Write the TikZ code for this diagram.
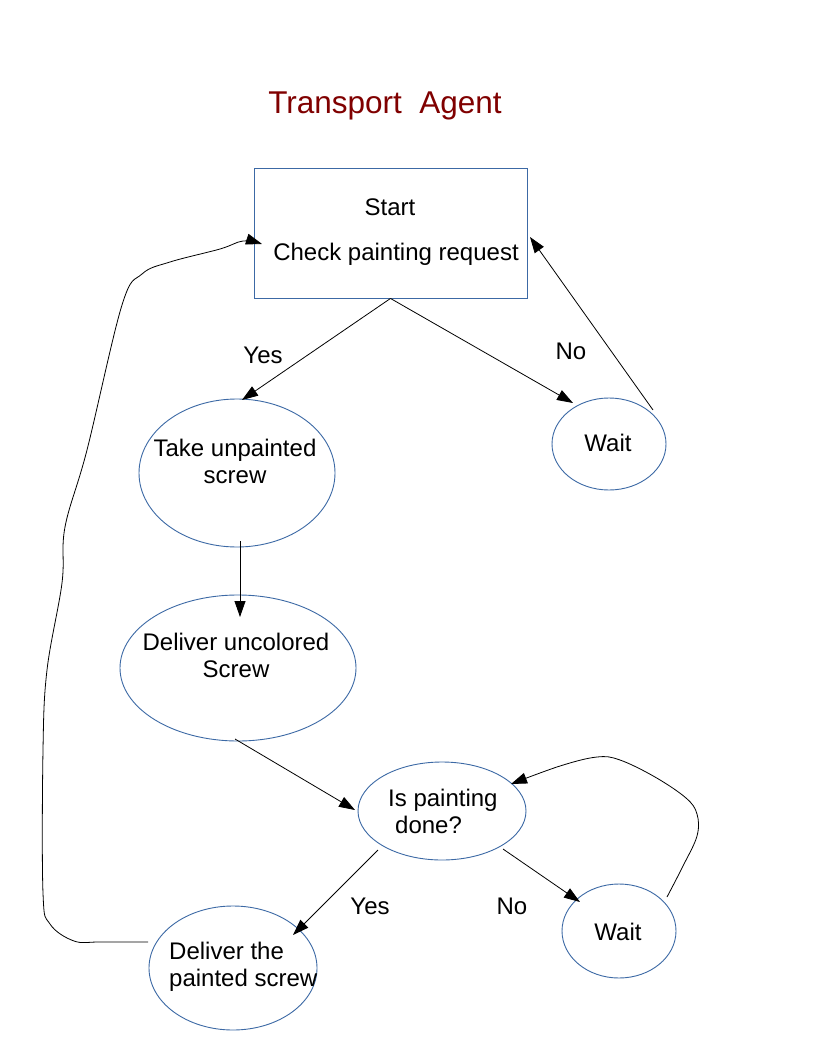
\documentclass[tikz,border=0pt]{standalone}
\usepackage{fontspec}
\setmainfont{Liberation Sans}
\usetikzlibrary{shapes.geometric,arrows.meta}
\definecolor{shapeblue}{RGB}{60,105,165}
\definecolor{titlered}{RGB}{128,0,0}
\tikzset{
  stateell/.style={draw=shapeblue, line width=0.9pt, ellipse, inner sep=0pt},
  statebox/.style={draw=shapeblue, line width=0.9pt, rectangle, inner sep=0pt},
  lbl/.style={inner sep=0pt, font=\fontsize{24}{27}\selectfont},
  conn/.style={line width=0.8pt, -{Triangle[length=16pt,width=11pt]}},
}
\begin{document}
\begin{tikzpicture}[x=1pt,y=-1pt]
\useasboundingbox[fill=white] (0,0) rectangle (816,1056);
% title
\node[inner sep=0pt, text=titlered, font=\fontsize{31.5}{36}\selectfont] (title) at (385,106) {Transport\ \ Agent};
% shapes
\node[statebox, minimum width=273pt, minimum height=130pt] (box) at (390.5,233) {};
\node[stateell, minimum width=196pt, minimum height=148pt] (take) at (237,473) {};
\node[stateell, minimum width=114pt, minimum height=92pt] (wait1) at (609,444) {};
\node[stateell, minimum width=236pt, minimum height=146pt] (deliv) at (238,668) {};
\node[stateell, minimum width=168pt, minimum height=98pt] (isdone) at (442,811) {};
\node[stateell, minimum width=114pt, minimum height=94pt] (wait2) at (619,931) {};
\node[stateell, minimum width=168pt, minimum height=124pt] (dp) at (233,968) {};
% texts
\node[lbl] (tstart) at (390,207) {Start};
\node[lbl] (tcheck) at (396,254.5) {Check painting request};
\node[lbl, align=center] (ttake) at (235,461) {Take unpainted\\screw};
\node[lbl] (twait1) at (608,443) {Wait};
\node[lbl, align=center] (tdeliv) at (236,655.5) {Deliver uncolored\\Screw};
\node[lbl, align=left, anchor=west] (tisdone) at (388,811) {Is painting\\\hspace{7pt}done?};
\node[lbl] (twait2) at (618,932) {Wait};
\node[lbl, align=left, anchor=west] (tdp) at (169,966.5) {Deliver the\\painted screw};
\node[lbl] (yes1) at (263,355.5) {Yes};
\node[lbl] (no1) at (571,351.5) {No};
\node[lbl] (yes2) at (370,906.5) {Yes};
\node[lbl] (no2) at (512,906.5) {No};
% connector end points
\coordinate (boxin) at (262,244);
\coordinate (boxr) at (530,237);
\coordinate (takein) at (242,400);
\coordinate (w1in) at (573,403);
\coordinate (w1out) at (653,410);
\coordinate (takeout) at (240,541);
\coordinate (delin) at (240,617);
\coordinate (delout) at (235,739);
\coordinate (isin) at (355,810);
\coordinate (isout1) at (378,850);
\coordinate (dpin) at (293,935);
\coordinate (isout2) at (503,849);
\coordinate (w2in) at (580,902);
\coordinate (w2out) at (667,897);
\coordinate (isloopin) at (511,784);
\coordinate (dpout) at (148,942);
% connectors
\draw[conn] (box.south) -- (takein);
\draw[conn] (box.south) -- (w1in);
\draw[conn] (w1out) -- (boxr);
\draw[conn] (takeout) -- (delin);
\draw[conn] (delout) -- (isin);
\draw[conn] (isout1) -- (dpin);
\draw[conn] (isout2) -- (w2in);
\draw[conn] plot[smooth, tension=0.6] coordinates {(w2out) (683,866) (697,836) (697,814) (686,798) (655,777) (620,760) (597,757) (560,766) (isloopin)};
\draw[conn] plot[smooth, tension=0.6] coordinates {(dpout) (100,942) (74,941) (50,924) (43,893) (43,750) (47,670) (62,583) (65,527) (87,450) (122,305) (142,274) (170,262) (220,249) (243,241) (boxin)};
\end{tikzpicture}
\end{document}
